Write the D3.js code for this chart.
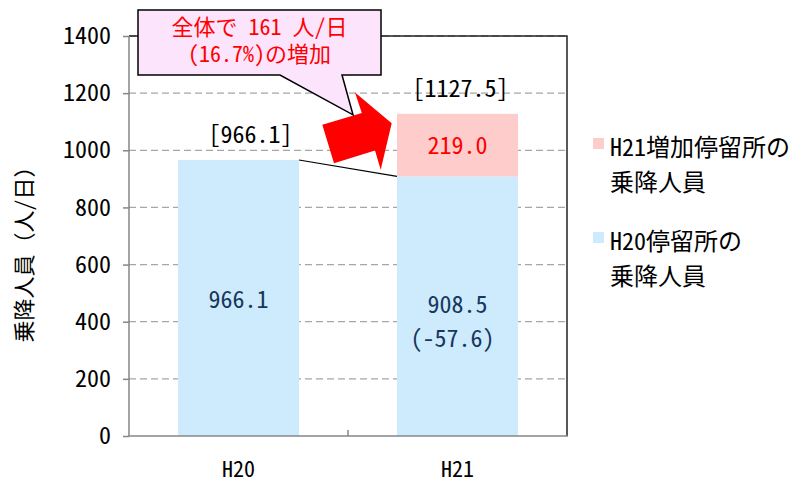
<!DOCTYPE html>
<html>
<head>
<meta charset="utf-8">
<script src="https://cdn.jsdelivr.net/npm/d3@7"></script>
<style>
  html, body { margin: 0; padding: 0; background: #fff; }
  svg { display: block; }
  text { font-family: 'Noto Sans Mono CJK JP', 'Noto Sans CJK JP', sans-serif; }
</style>
</head>
<body>
<svg id="chart" width="803" height="484"></svg>
<script>
// 停留所別の乗降人員（人/日）
const categories = ["H20", "H21"];
const baseValues = [966.1, 908.5];   // H20停留所の乗降人員
const addedValues = [0, 219.0];      // H21増加停留所の乗降人員
const totals = [966.1, 1127.5];
const changeLabels = ["", "(-57.6)"];
const yTicks = [0, 200, 400, 600, 800, 1000, 1200, 1400];
const legendItems = [
  { lines: ["H21増加停留所の", "乗降人員"], color: "#ffcccc" },
  { lines: ["H20停留所の", "乗降人員"], color: "#cdebfd" }
];
const calloutLines = ["全体で 161 人/日", "(16.7%)の増加"];
const yTitle = "乗降人員（人/日）";

const svg = d3.select("#chart");
const plotLeft = 129, plotRight = 567, plotTop = 36, plotBottom = 436;

const x = d3.scaleBand().domain(categories).range([plotLeft, plotRight])
  .paddingInner(0.4475).paddingOuter(0.22375);
const y = d3.scaleLinear().domain([0, 1400]).range([plotBottom, plotTop]);
const bw = x.bandwidth();

// dashed gridlines
svg.append("g").selectAll("line").data(yTicks.filter(d => d > 0)).join("line")
  .attr("x1", plotLeft).attr("x2", plotRight)
  .attr("y1", d => y(d)).attr("y2", d => y(d))
  .attr("stroke", "#a6a6a6").attr("stroke-width", 1.3)
  .attr("stroke-dasharray", "7,4");

// plot frame (top and right)
svg.append("path")
  .attr("d", `M${plotLeft},${y(1400)}H${plotRight}V${y(0)}`)
  .attr("fill", "none").attr("stroke", "#222").attr("stroke-width", 1.5);

// bars: base segment
svg.append("g").selectAll("rect").data(categories).join("rect")
  .attr("x", d => x(d)).attr("width", bw)
  .attr("y", (d, i) => y(baseValues[i]))
  .attr("height", (d, i) => y(0) - y(baseValues[i]))
  .attr("fill", legendItems[1].color);

// bars: added segment
svg.append("g").selectAll("rect").data(categories.filter((d, i) => addedValues[i] > 0)).join("rect")
  .attr("x", d => x(d)).attr("width", bw)
  .attr("y", d => { const i = categories.indexOf(d); return y(baseValues[i] + addedValues[i]); })
  .attr("height", d => { const i = categories.indexOf(d); return y(baseValues[i]) - y(baseValues[i] + addedValues[i]); })
  .attr("fill", legendItems[0].color);

// connector between the base segments
svg.append("line")
  .attr("x1", x("H20") + bw).attr("y1", y(baseValues[0]))
  .attr("x2", x("H21")).attr("y2", y(baseValues[1]))
  .attr("stroke", "#000").attr("stroke-width", 1.2);

// y axis
const yAxis = svg.append("g").attr("transform", `translate(${plotLeft},0)`)
  .call(d3.axisLeft(y).tickValues(yTicks).tickSize(6).tickPadding(12).tickFormat(d3.format("d")));
yAxis.selectAll("line, path").attr("stroke", "#868686").attr("stroke-width", 1.5);
yAxis.select(".domain").attr("d", `M0,${plotTop}V${plotBottom}`);
yAxis.selectAll("text").attr("font-size", 24).attr("fill", "#000")
  .attr("font-family", "'Noto Sans Mono CJK JP','Noto Sans CJK JP',sans-serif");

// x axis
const xAxisG = svg.append("g");
xAxisG.append("line").attr("x1", plotLeft).attr("x2", plotRight + 1)
  .attr("y1", plotBottom).attr("y2", plotBottom)
  .attr("stroke", "#868686").attr("stroke-width", 1.5);
const midX = (x("H20") + bw + x("H21")) / 2;
xAxisG.append("line")
  .attr("x1", midX).attr("x2", midX)
  .attr("y1", plotBottom).attr("y2", plotBottom - 6)
  .attr("stroke", "#868686").attr("stroke-width", 1.5);
xAxisG.selectAll("text").data(categories).join("text")
  .attr("x", d => x(d) + bw / 2).attr("y", 477)
  .attr("text-anchor", "middle").attr("font-size", 22).text(d => d);

// y title
svg.append("text")
  .attr("transform", "translate(32,249) rotate(-90)")
  .attr("text-anchor", "middle").attr("font-size", 22).text(yTitle);

// value labels inside bars
const navy = "#17375e";
svg.append("g").selectAll("text").data(categories).join("text")
  .attr("x", d => x(d) + bw / 2)
  .attr("y", (d, i) => changeLabels[i] ? 313 : 308)
  .attr("text-anchor", "middle").attr("font-size", 24).attr("fill", navy)
  .text((d, i) => baseValues[i].toFixed(1));
svg.append("g").selectAll("text").data(categories.filter((d, i) => changeLabels[i])).join("text")
  .attr("x", d => x(d) + bw / 2 - 5).attr("y", 347)
  .attr("text-anchor", "middle").attr("font-size", 24).attr("fill", navy)
  .text(d => changeLabels[categories.indexOf(d)]);
svg.append("g").selectAll("text").data(categories.filter((d, i) => addedValues[i] > 0)).join("text")
  .attr("x", d => x(d) + bw / 2)
  .attr("y", d => { const i = categories.indexOf(d); return y(baseValues[i] + addedValues[i] / 2) + 9; })
  .attr("text-anchor", "middle").attr("font-size", 24).attr("fill", "#ff0000")
  .text(d => addedValues[categories.indexOf(d)].toFixed(1));

// totals in brackets
svg.append("g").selectAll("text").data(categories).join("text")
  .attr("x", (d, i) => x(d) + bw / 2 + (i === 0 ? 12 : 3))
  .attr("y", (d, i) => y(totals[i]) - 17)
  .attr("text-anchor", "middle").attr("font-size", 24).attr("fill", "#000")
  .text((d, i) => `[${totals[i].toFixed(1)}]`);

// red block arrow pointing at the increase
const ax = x("H21"), ay = y(totals[1]);
const arrowPts = [[-74.7, 11], [-35.2, -0.9], [-42, -21.3], [-5.3, 9.3], [-16.3, 56], [-22, 36.7], [-63, 49.3]];
svg.append("polygon")
  .attr("points", arrowPts.map(p => [ax + p[0], ay + p[1]].join(",")).join(" "))
  .attr("fill", "#ff0000");

// callout
const cx0 = 138, cx1 = 381, cy0 = 10, cy1 = 75;
const tip = [ax - 44, ay + 1];
svg.append("path")
  .attr("d", `M${cx0},${cy0}H${cx1}V${cy1}H342L${tip[0]},${tip[1]}L280,${cy1}H${cx0}Z`)
  .attr("fill", "#fde4fd").attr("stroke", "#000").attr("stroke-width", 1.5)
  .attr("stroke-linejoin", "miter");
const calloutText = svg.append("text")
  .attr("text-anchor", "middle").attr("font-size", 22).attr("fill", "#ff0000");
calloutText.selectAll("tspan").data(calloutLines).join("tspan")
  .attr("x", (cx0 + cx1) / 2).attr("y", (d, i) => 35 + i * 27)
  .text(d => d);

// legend
const lg = svg.append("g");
legendItems.forEach((it, k) => {
  const base = k === 0 ? 138 : 232;
  lg.append("rect").attr("x", 593).attr("y", base).attr("width", 11).attr("height", 11).attr("fill", it.color);
  it.lines.forEach((t, j) => {
    lg.append("text").attr("x", 610).attr("y", base + 18 + j * 35)
      .attr("font-size", 24).attr("fill", "#000").text(t);
  });
});
</script>
</body>
</html>
